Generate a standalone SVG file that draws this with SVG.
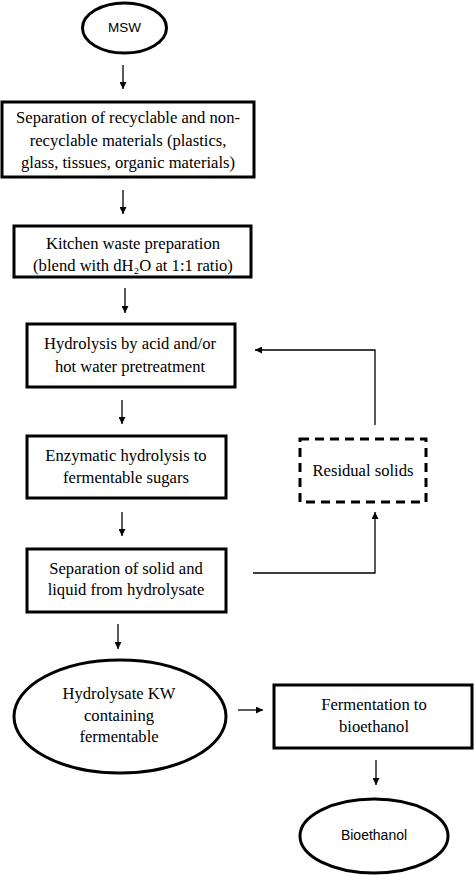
<svg xmlns="http://www.w3.org/2000/svg" width="474" height="875" viewBox="0 0 474 875">
<defs>
<marker id="ah" viewBox="0 0 10 10" refX="10" refY="5" markerWidth="7" markerHeight="7" markerUnits="userSpaceOnUse" orient="auto">
<path d="M0,0 L10,5 L0,10 z" fill="#000"/>
</marker>
<style>
.box{fill:#fff;stroke:#000;stroke-width:3}
.ell{fill:#fff;stroke:#000;stroke-width:3}
.dash{fill:#fff;stroke:#000;stroke-width:3;stroke-dasharray:9,6}
.t{font-family:"Liberation Serif","Times New Roman",serif;font-size:16.6px;fill:#000;text-anchor:middle}
.s{font-family:"Liberation Sans",Arial,sans-serif;font-size:14px;fill:#000;text-anchor:middle}
.c{fill:none;stroke:#000;stroke-width:1.3;marker-end:url(#ah)}
</style>
</defs>
<rect width="474" height="875" fill="#fff"/>
<g id="connectors">
<path class="c" d="M123,65 V89"/>
<path class="c" d="M123,190 V214"/>
<path class="c" d="M125,288 V313"/>
<path class="c" d="M375,425 V350 H255"/>
<path class="c" d="M122,400 V424"/>
<path class="c" d="M122,512 V536"/>
<path class="c" d="M253,573 H375 V512"/>
<path class="c" d="M118,624 V649"/>
<path class="c" d="M238,710 H263"/>
<path class="c" d="M376,760 V785"/>
</g>
<g id="msw">
<ellipse class="ell" cx="124.5" cy="28" rx="42" ry="25"/>
<text class="s" x="124.5" y="32" style="font-size:13.5px">MSW</text>
</g>
<g id="separation">
<rect class="box" x="2" y="102" width="252" height="75"/>
<text class="t" x="128" y="123">Separation of recyclable and non-</text>
<text class="t" x="128" y="146">recyclable materials (plastics,</text>
<text class="t" x="128" y="168">glass, tissues, organic materials)</text>
</g>
<g id="kitchen">
<rect class="box" x="14" y="226" width="237" height="51"/>
<text class="t" x="133" y="249">Kitchen waste preparation</text>
<text class="t" x="133" y="271">(blend with dH₂O at 1:1 ratio)</text>
</g>
<g id="hydrolysis">
<rect class="box" x="27" y="324" width="208" height="63"/>
<text class="t" x="130" y="349">Hydrolysis by acid and/or</text>
<text class="t" x="130" y="372">hot water pretreatment</text>
</g>
<g id="residual">
<rect class="dash" x="300" y="439" width="126" height="63"/>
<text class="t" x="363" y="476">Residual solids</text>
</g>
<g id="enzymatic">
<rect class="box" x="27" y="436" width="199" height="62"/>
<text class="t" x="126" y="461">Enzymatic hydrolysis to</text>
<text class="t" x="126" y="483">fermentable sugars</text>
</g>
<g id="solidliquid">
<rect class="box" x="27" y="549" width="199" height="63"/>
<text class="t" x="126" y="574">Separation of solid and</text>
<text class="t" x="126" y="595">liquid from hydrolysate</text>
</g>
<g id="hydrolysate">
<ellipse class="ell" cx="120" cy="716.5" rx="106" ry="56.5"/>
<text class="t" x="119" y="699">Hydrolysate KW</text>
<text class="t" x="119" y="721">containing</text>
<text class="t" x="119" y="742">fermentable</text>
</g>
<g id="fermentation">
<rect class="box" x="274" y="685" width="198" height="63"/>
<text class="t" x="374" y="710">Fermentation to</text>
<text class="t" x="374" y="732">bioethanol</text>
</g>
<g id="bioethanol">
<ellipse class="ell" cx="374" cy="836" rx="74" ry="37"/>
<text class="s" x="374" y="840">Bioethanol</text>
</g>
</svg>
